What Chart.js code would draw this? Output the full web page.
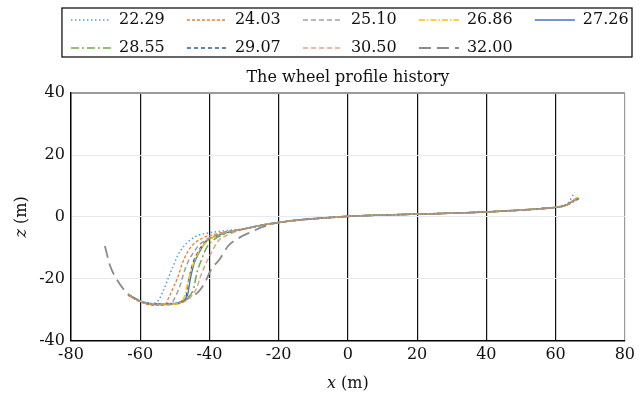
<!DOCTYPE html>
<html>
<head>
<meta charset="utf-8">
<script src="https://cdn.jsdelivr.net/npm/chart.js@4.4.1/dist/chart.umd.min.js"></script>
<style>
  html, body { margin: 0; padding: 0; background: #fff; }
</style>
</head>
<body>
<canvas id="profile" width="640" height="394"></canvas>
<script>
// Series names (legend labels)
const seriesNames = ['22.29', '24.03', '25.10', '26.86', '27.26', '28.55', '29.07', '30.50', '32.00'];

// Left part of each profile (flange / bowl region), x and z in m
const headX = [
  [-63.5, -60, -57, -55, -53.1, -51.8, -50.5, -49.3, -48.4, -46.4, -43.6, -39.8, -35],
  [-63.5, -60, -56, -53, -51.7, -50.5, -49.3, -47.9, -46.4, -44.6, -41.7, -38, -35],
  [-63.5, -60, -56, -51.5, -49.5, -48.5, -47.5, -46.5, -44.6, -42.2, -39.5, -35],
  [-63.5, -60, -56, -50, -47.5, -46.9, -45.5, -44, -42, -39.5, -36],
  [-63.5, -60, -56, -50, -46.4, -45.5, -44.4, -42.7, -40.8, -38, -35],
  [-63.5, -60, -56, -50, -46.5, -44.6, -43.6, -42.2, -40.8, -38.5, -35.5],
  [-63.5, -60, -56, -50, -46.8, -45.9, -44.8, -43.1, -41.2, -38.5, -35],
  [-63.5, -60, -56, -50, -46, -43.6, -42.7, -41.2, -39.4, -37.4, -35, -32.5],
  [-70.2, -68.7, -66.8, -64, -60.2, -57, -53.5, -50, -45.5, -43, -41.2, -39.5, -37, -34.6, -31.3, -28, -25]
];
const headZ = [
  [-25.2, -27.2, -28.0, -27.3, -23.3, -19.5, -16, -12.8, -11, -8.3, -6.1, -5.1, -4.4],
  [-25.3, -27.5, -28.6, -28.6, -26, -23, -20, -15.3, -11.5, -8.8, -6.7, -5.5, -4.7],
  [-25.2, -27.3, -28.3, -28.4, -25, -22.3, -18.5, -15.3, -11.5, -8.3, -6.5, -4.9],
  [-25.2, -27.3, -28.2, -28.2, -26.5, -24.4, -18, -13.5, -9.5, -7, -5.3],
  [-25.1, -27.2, -28.1, -28.0, -25.5, -20, -15, -11, -7.8, -6.2, -5.1],
  [-25.2, -27.3, -28.2, -28.1, -26.3, -23.3, -18, -13.6, -9.9, -7.2, -5.5],
  [-25.1, -27.2, -28.1, -28.0, -25.8, -20, -15, -11, -8, -6.3, -5.1],
  [-25.2, -27.3, -28.3, -28.2, -26.5, -22.8, -19.6, -15.5, -11.5, -7.7, -6.0, -4.8],
  [-9.4, -15.8, -20.1, -24.4, -27.1, -28.2, -28.3, -28, -26, -24, -21, -17, -13.6, -9.4, -6.7, -4.9, -3.4]
];

// Common tread part shared by all profiles
const tailX = [-30, -25, -20, -15, -10, -5, 0, 10, 20, 30, 40, 50, 55, 60, 63];
const tailZ = [-3.9, -2.7, -1.8, -1.1, -0.6, -0.2, 0.2, 0.6, 0.9, 1.2, 1.6, 2.2, 2.6, 3.1, 3.8];

// Right end point of each profile
const endX = [65.5, 66, 66.2, 66.4, 66.4, 66.6, 66.3, 66.5, 66.8];
const endZ = [7.8, 6.0, 6.2, 6.4, 6.0, 5.8, 6.1, 6.3, 6.0];

const xTicks = [-80, -60, -40, -20, 0, 20, 40, 60, 80];
const zTicks = [-40, -20, 0, 20, 40];

const colors = ['#5b9bd5', '#ed7d31', '#a0a0a0', '#ffc000', '#4472c4', '#70ad47', '#255e91', '#dba684', '#8a8a8a'];
const dashes = [[1.5, 2.5], [3, 2], [5, 3], [6, 2, 1.5, 2], [], [8, 3, 2, 3], [4, 3], [5, 3], [12, 6]];
const widths = [1.5, 1.3, 1.5, 1.5, 1.3, 1.5, 1.3, 1.5, 1.8];

function buildPoints(i) {
  const pts = headX[i].map((x, k) => ({ x: x, y: headZ[i][k] }));
  const lastX = headX[i][headX[i].length - 1];
  tailX.forEach((x, k) => {
    if (x > lastX) pts.push({ x: x, y: tailZ[k] });
  });
  pts.push({ x: endX[i], y: endZ[i] });
  return pts;
}

const datasets = seriesNames.map((name, i) => ({
  label: name,
  data: buildPoints(i),
  borderColor: colors[i],
  backgroundColor: colors[i],
  borderDash: dashes[i],
  borderWidth: widths[i],
  pointRadius: 0,
  pointStyle: 'line',
  cubicInterpolationMode: 'monotone',
  fill: false
}));

// White background, legend lined up with the plot, frame round the legend
const framePlugin = {
  id: 'framePlugin',
  afterLayout(chart) {
    chart.legend.left = chart.chartArea.left - 12;
    chart.legend.right = chart.width + 12;
  },
  beforeDraw(chart) {
    const ctx = chart.ctx;
    ctx.save();
    ctx.fillStyle = '#fff';
    ctx.fillRect(0, 0, chart.width, chart.height);
    ctx.restore();
  },
  afterDraw(chart) {
    const area = chart.chartArea;
    const ctx = chart.ctx;
    ctx.save();
    ctx.strokeStyle = '#000';
    ctx.lineWidth = 1.2;
    ctx.strokeRect(area.left - 9, chart.legend.top + 8, chart.width - 8 - (area.left - 9), 49);
    ctx.restore();
  }
};

Chart.defaults.font.family = "'DejaVu Serif', serif";
Chart.defaults.font.size = 16;
Chart.defaults.color = '#111';

new Chart(document.getElementById('profile'), {
  type: 'line',
  data: { datasets },
  plugins: [framePlugin],
  options: {
    responsive: false,
    animation: false,
    layout: { padding: { top: 0, right: 0 } },
    plugins: {
      tooltip: { enabled: false },
      legend: {
        position: 'top',
        align: 'start',
        fullSize: true,
        labels: {
          usePointStyle: true,
          pointStyleWidth: 40,
          padding: 12,
          color: '#111',
          font: { size: 16 },
          generateLabels: chart => Chart.defaults.plugins.legend.labels.generateLabels(chart).map(item => {
            const ds = chart.data.datasets[item.datasetIndex];
            item.text = ds.label + '  ';
            item.lineDash = ds.borderDash;
            item.lineWidth = ds.borderWidth;
            item.strokeStyle = ds.borderColor;
            return item;
          })
        }
      },
      title: {
        display: true,
        text: 'The wheel profile history',
        fullSize: false,
        weight: 500,
        color: '#111',
        font: { size: 16, weight: 'normal' },
        padding: { top: 2, bottom: 6 }
      }
    },
    scales: {
      x: {
        type: 'linear',
        min: -80,
        max: 80,
        afterBuildTicks: axis => { axis.ticks = xTicks.map(v => ({ value: v })); },
        ticks: { padding: 5, color: '#111' },
        grid: {
          drawTicks: false,
          lineWidth: 1.2,
          color: c => c.tick.value === 80 ? '#9a9a9a' : (c.tick.value === -80 ? 'rgba(0,0,0,0)' : '#111')
        },
        border: { color: '#000', width: 1.5 },
        title: { display: true, text: '𝑥 (m)', color: '#111', padding: { top: 4, bottom: 1 } }
      },
      y: {
        type: 'linear',
        min: -40,
        max: 40,
        afterBuildTicks: axis => { axis.ticks = zTicks.map(v => ({ value: v })); },
        ticks: { padding: 6, color: '#111' },
        grid: {
          drawTicks: false,
          lineWidth: c => c.tick.value === 40 ? 2 : 1,
          color: c => c.tick.value === 40 ? '#9a9a9a' : (c.tick.value === -40 ? 'rgba(0,0,0,0)' : '#e4e9f2')
        },
        border: { color: '#000', width: 1.5 },
        title: { display: true, text: '𝑧 (m)', color: '#111', padding: { top: 12, bottom: 2 } }
      }
    }
  }
});
</script>
</body>
</html>
